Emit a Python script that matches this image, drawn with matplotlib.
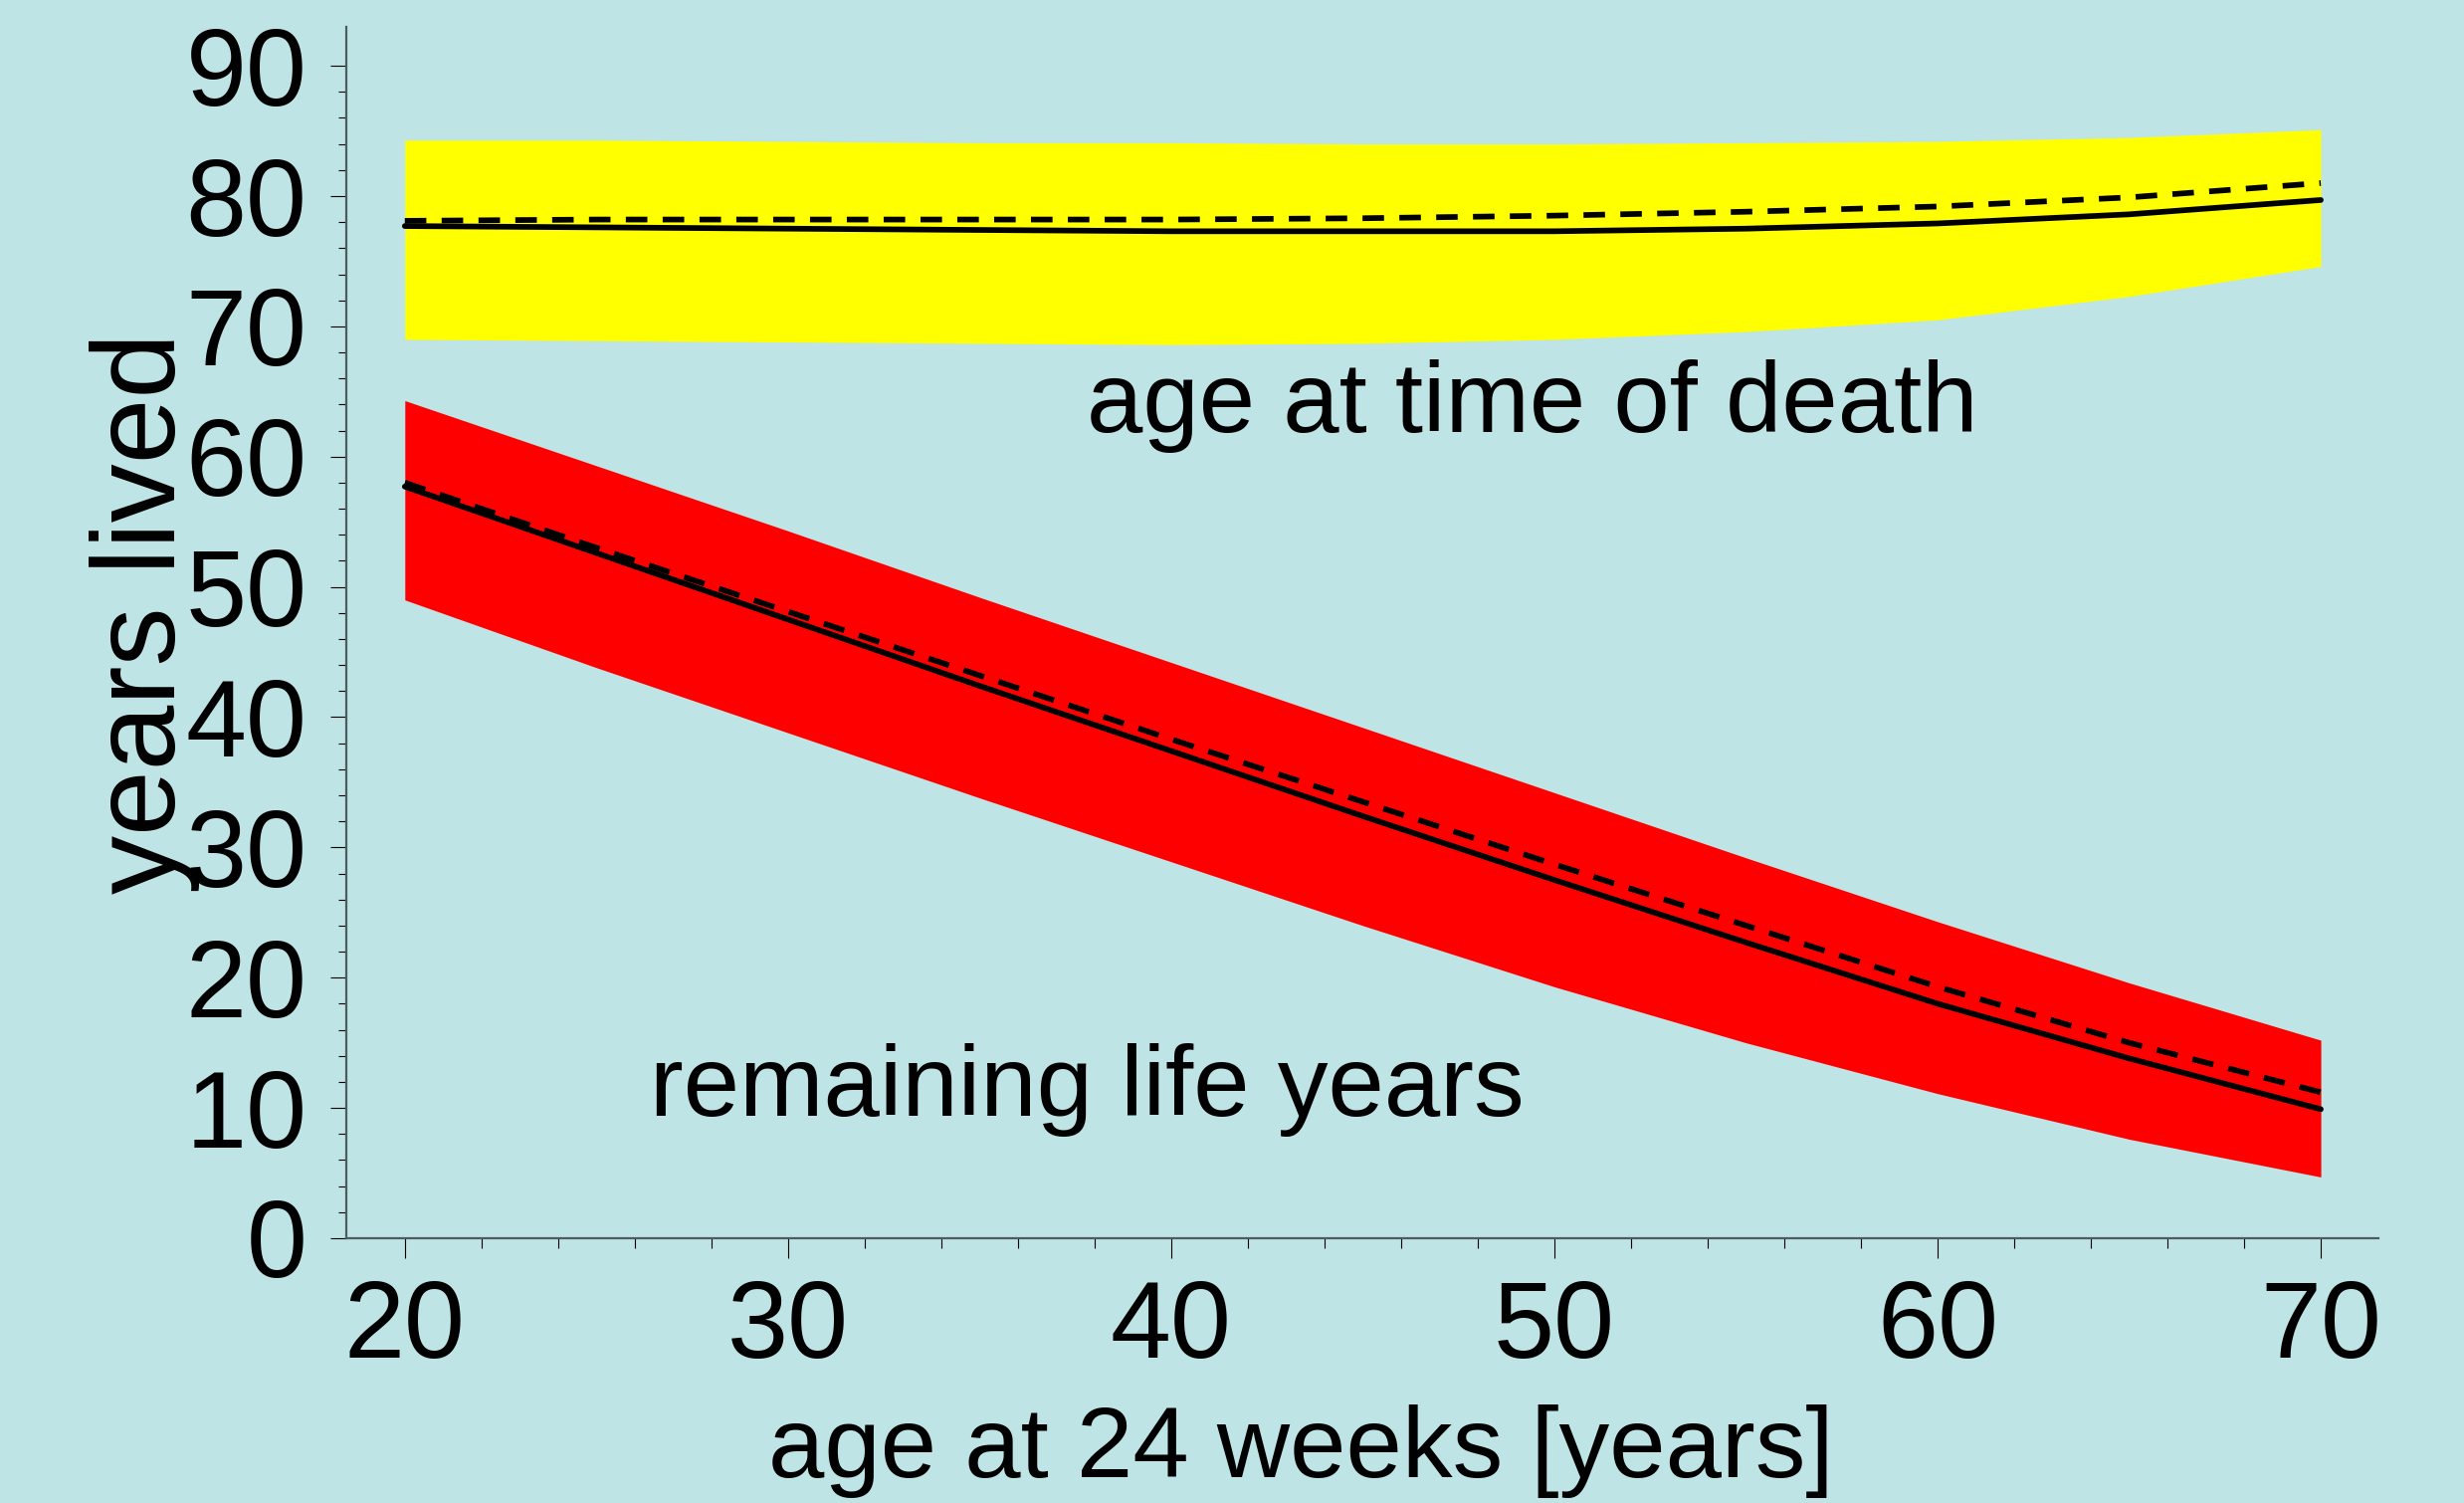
import matplotlib
matplotlib.use("Agg")
import matplotlib.pyplot as plt
from matplotlib.ticker import FixedLocator

plt.rcParams['font.family'] = ['Liberation Sans', 'DejaVu Sans']

# --- data ------------------------
ages = [20, 25, 30, 35, 40, 45, 50, 55, 60, 65, 70]

# age at time of death (yellow band)
deathUpper = [84.3, 84.3, 84.2, 84.1, 84.1, 84.0, 84.0, 84.1, 84.2, 84.5, 85.1]
deathLower = [69.0, 68.9, 68.8, 68.7, 68.6, 68.7, 69.0, 69.6, 70.5, 72.3, 74.6]
deathSolid = [77.7, 77.6, 77.5, 77.4, 77.3, 77.3, 77.3, 77.5, 77.9, 78.6, 79.7]
deathDashed = [78.1, 78.2, 78.2, 78.2, 78.2, 78.3, 78.5, 78.8, 79.2, 79.9, 81.0]

# remaining life years (red band)
remainUpper = [64.3, 59.3, 54.3, 49.2, 44.2, 39.2, 34.2, 29.2, 24.3, 19.6, 15.2]
remainLower = [49.0, 43.8, 38.8, 33.8, 28.9, 24.0, 19.3, 15.0, 11.1, 7.6, 4.7]
remainSolid = [57.7, 52.6, 47.5, 42.4, 37.4, 32.4, 27.5, 22.7, 18.0, 13.8, 9.9]
remainDashed = [58.0, 53.0, 48.1, 43.2, 38.3, 33.5, 28.7, 24.0, 19.3, 15.0, 11.2]

xTicks = [20, 30, 40, 50, 60, 70]
yTicks = [0, 10, 20, 30, 40, 50, 60, 70, 80, 90]

bg = '#bee4e6'
dash = (0, (3.8, 2.7))

fig = plt.figure(figsize=(24.76, 15.10), dpi=100, facecolor=bg)
ax = fig.add_axes([0.1405, 0.1762, 0.8247, 0.806], facecolor=bg)

ax.fill_between(ages, deathLower, deathUpper, color='#ffff00', linewidth=0)
ax.fill_between(ages, remainLower, remainUpper, color='#ff0000', linewidth=0)

ax.plot(ages, deathDashed, color='black', linewidth=4.1, linestyle=dash)
ax.plot(ages, deathSolid, color='black', linewidth=4.1, solid_capstyle='round')
ax.plot(ages, remainDashed, color='black', linewidth=4.1, linestyle=dash)
ax.plot(ages, remainSolid, color='black', linewidth=4.1, solid_capstyle='round')

ax.text(37.8, 61.9, 'age at time of death', fontsize=73, ha='left', va='baseline')
ax.text(26.4, 9.4, 'remaining life years', fontsize=73, ha='left', va='baseline')

ax.set_xlim(18.47, 71.5)
ax.set_ylim(0, 93.0)

ax.set_xticks(xTicks)
ax.set_yticks(yTicks)
ax.xaxis.set_minor_locator(FixedLocator(list(range(20, 71, 2))))
ax.yaxis.set_minor_locator(FixedLocator(list(range(0, 91, 2))))

ax.tick_params(axis='y', which='major', length=11.3, width=0.8, pad=17, labelsize=79, color='black')
ax.tick_params(axis='y', which='minor', length=6, width=0.8, color='black')
ax.tick_params(axis='x', which='major', length=14.6, width=0.8, pad=15, labelsize=79, color='black')
ax.tick_params(axis='x', which='minor', length=7.2, width=0.8, color='black')

for side in ['top', 'right']:
    ax.spines[side].set_visible(False)
for side in ['left', 'bottom']:
    ax.spines[side].set_color('#4f5c5e')
    ax.spines[side].set_linewidth(1.6)

fig.text(0.528, 0.0172, 'age at 24 weeks [years]', fontsize=73, ha='center', va='baseline')
fig.text(0.0712, 0.592, 'years lived', fontsize=85, rotation=90,
         rotation_mode='anchor', ha='center', va='baseline')

fig.savefig('out.png', dpi=100, facecolor=bg)
